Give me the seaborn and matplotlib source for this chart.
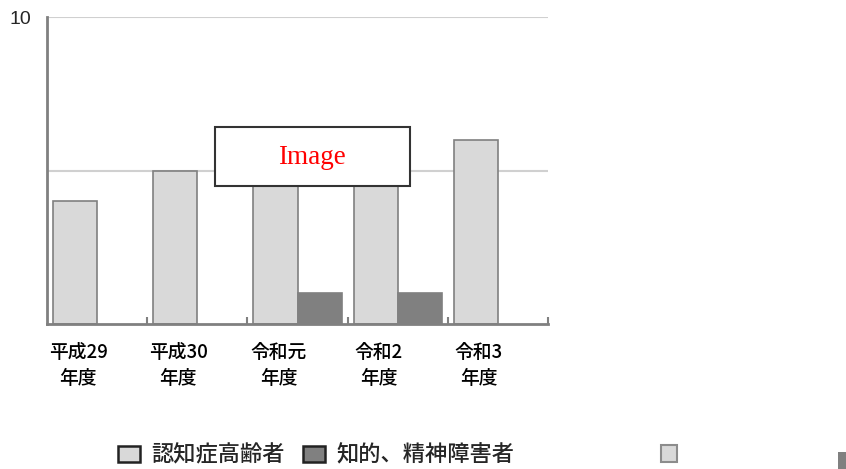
import numpy as np
import pandas as pd
import seaborn as sns
import matplotlib.pyplot as plt
from matplotlib.patches import Rectangle, Patch

# values (the two middle light bars are hidden behind the "Image" box)
years = ['平成29\n年度', '平成30\n年度', '令和元\n年度', '令和2\n年度', '令和3\n年度']
dementia = [4, 5, 5, 5, 6]
intellectual = [np.nan, np.nan, 1, 1, np.nan]
series = ['認知症高齢者', '知的、精神障害者']

df = pd.DataFrame({
    'year': years * 2,
    'count': dementia + intellectual,
    'group': [series[0]] * len(years) + [series[1]] * len(years),
})

sns.set_style('white')
plt.rcParams['font.family'] = ['Noto Sans CJK JP', 'DejaVu Sans']

fig = plt.figure(figsize=(8.46, 4.69), dpi=100)
ax = fig.add_axes([47 / 846, 1 - 324 / 469, 501 / 846, 307 / 469])

sns.barplot(data=df, x='year', y='count', hue='group', order=years, hue_order=series,
            palette=['#d9d9d9', '#808080'], width=0.88, edgecolor='#808080',
            linewidth=1.2, saturation=1, ax=ax, legend=False)

ax.set_xlim(-0.5, len(years) - 0.5)
ax.set_ylim(0, 10)
ax.set_xlabel('')
ax.set_ylabel('')

# grid lines at 5 and 10
for v in [5, 10]:
    ax.axhline(v, color='#d0d0d0', lw=1.5, zorder=0)

ax.set_yticks([10])
ax.set_yticklabels(['10'], fontsize=14, family=['Liberation Sans', 'DejaVu Sans'])
ax.tick_params(axis='y', length=0, pad=11)

# labels sit slightly left of the group centre, tick marks on the boundaries
ax.set_xticks(np.arange(len(years)) - 0.19)
ax.set_xticklabels(years, fontsize=13.5, linespacing=1.45, fontweight='medium', color='black')
ax.tick_params(axis='x', which='major', length=0, pad=14)
ax.set_xticks(np.arange(len(years)) + 0.5, minor=True)
ax.tick_params(axis='x', which='minor', bottom=True, direction='in', length=5,
               width=1.5, color='#808080')

for s in ['top', 'right']:
    ax.spines[s].set_visible(False)
for s in ['left', 'bottom']:
    ax.spines[s].set_color('#808080')
    ax.spines[s].set_linewidth(2)

# placeholder box over the chart
fig.text(312 / 846, 1 - 157 / 469, 'Image', color='red', fontsize=19.5,
         family=['Liberation Serif', 'DejaVu Serif'], ha='center', va='center', zorder=10)
fig.patches.append(Rectangle((215 / 846, 1 - 186 / 469), 195 / 846, 59 / 469,
                             transform=fig.transFigure, facecolor='white',
                             edgecolor='#333333', lw=1.5, zorder=9))

handles = [Patch(facecolor='#d9d9d9', edgecolor='#222222', lw=1.8),
           Patch(facecolor='#808080', edgecolor='#222222', lw=1.8)]
fig.legend(handles, series, loc='center', bbox_to_anchor=(316 / 846, 1 - 455 / 469),
           ncol=2, frameon=False, handlelength=1.0, handleheight=0.7,
           handletextpad=0.5, columnspacing=0.8, prop={'size': 16, 'weight': 'medium'})

# stray legend pieces at the bottom right
fig.patches.append(Rectangle((661 / 846, 1 - 462 / 469), 16 / 846, 17 / 469,
                             transform=fig.transFigure, facecolor='#d9d9d9',
                             edgecolor='#8c8c8c', lw=1.5))
fig.patches.append(Rectangle((838 / 846, 0), 8 / 846, 17 / 469,
                             transform=fig.transFigure, facecolor='#808080', lw=0))

fig.savefig('out.png', dpi=100)
